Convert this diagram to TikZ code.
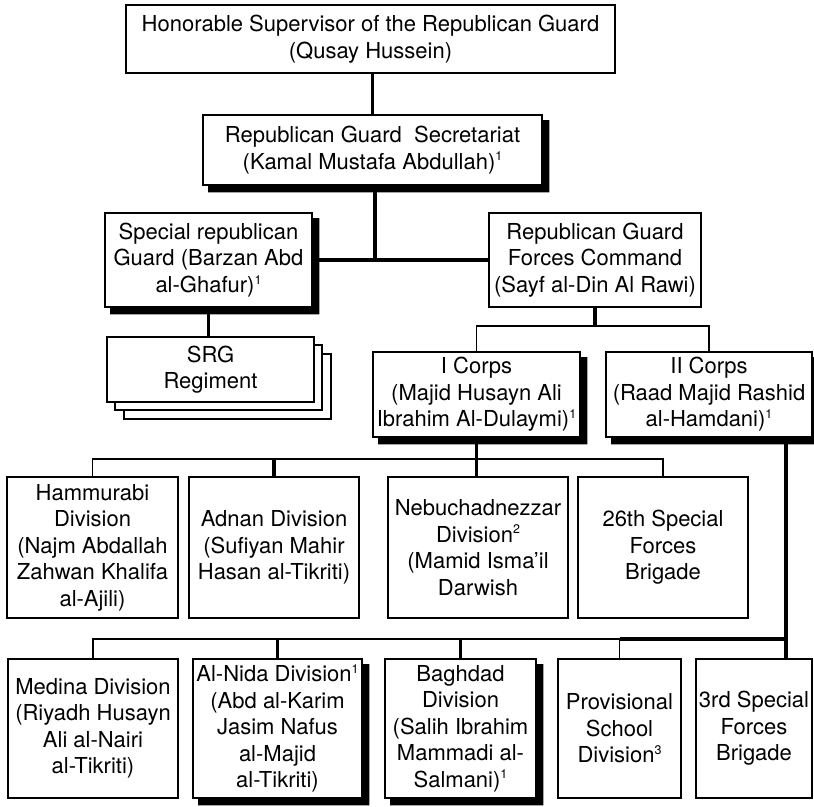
\documentclass[tikz,border=0pt]{standalone}
\usepackage{fontspec}
\setmainfont{TeX Gyre Heros}
\newcommand\fnmark[1]{\raisebox{0.72ex}{\fontsize{12.5}{12.5}\selectfont #1}}
\newcommand\dropL[1]{\fill[black] ([shift={(0,6)}]#1.north east) -- ([shift={(6.5,6)}]#1.north east)
    -- ([shift={(6.5,6.5)}]#1.south east) -- ([shift={(6,6.5)}]#1.south west)
    -- ([shift={(6,0)}]#1.south west) -- (#1.south east) -- cycle;}
\begin{document}
\begin{tikzpicture}[x=1pt,y=-1pt,
  box/.style={draw, line width=1.8pt, fill=white, align=center, inner sep=0pt,
    font=\fontsize{22}{26.5}\selectfont},
  backbox/.style={draw, line width=1.8pt, fill=white},
  thickln/.style={line width=3.3pt},
  thinln/.style={line width=1.8pt}]
\useasboundingbox (0,0) rectangle (814,806);

% stacked copies behind SRG regiment
\draw[backbox] (124,354) rectangle (331,419);
\draw[backbox] (115,345) rectangle (322,410);

\node[box, minimum width=489pt, minimum height=68pt] (top) at (370.5,39)
  {Honorable Supervisor of the Republican Guard\\(Qusay Hussein)};
\node[box, minimum width=339pt, minimum height=70pt] (sec) at (372.5,150)
  {Republican Guard\ \ Secretariat\\(Kamal Mustafa Abdullah)\fnmark{1}};
\node[box, minimum width=207pt, minimum height=94pt] (srgd) at (208.5,260)
  {Special republican\\Guard (Barzan Abd\\al-Ghafur)\fnmark{1}};
\node[box, minimum width=212pt, minimum height=94pt] (rgfc) at (595,260)
  {Republican Guard\\Forces Command\\(Sayf al-Din Al Rawi)};
\node[box, minimum width=207pt, minimum height=65pt] (srgreg) at (210.5,369.5)
  {SRG\\Regiment};
\node[box, minimum width=207pt, minimum height=85pt] (icorps) at (476.5,394.5)
  {I Corps\\(Majid Husayn Ali\\Ibrahim Al-Dulaymi)\fnmark{1}};
\node[box, minimum width=206pt, minimum height=85pt] (iicorps) at (709,394.5)
  {II Corps\\(Raad Majid Rashid\\al-Hamdani)\fnmark{1}};

\node[box, minimum width=171pt, minimum height=141pt] (hamm) at (92.5,547.5)
  {Hammurabi\\Division\\(Najm Abdallah\\Zahwan Khalifa\\al-Ajili)};
\node[box, minimum width=170pt, minimum height=141pt] (adnan) at (274,547.5)
  {Adnan Division\\(Sufiyan Mahir\\Hasan al-Tikriti)};
\node[box, minimum width=180pt, minimum height=141pt] (neb) at (478,547.5)
  {Nebuchadnezzar\\Division\fnmark{2}\\(Mamid Isma’il\\Darwish};
\node[box, minimum width=170pt, minimum height=141pt] (t26) at (663,547.5)
  {26th Special\\Forces\\Brigade};

\node[box, minimum width=170pt, minimum height=139pt] (medina) at (93,728.5)
  {Medina Division\\(Riyadh Husayn\\Ali al-Nairi\\al-Tikriti)};
\node[box, minimum width=169pt, minimum height=139pt] (alnida) at (277.5,728.5)
  {Al-Nida Division\fnmark{1}\\(Abd al-Karim\\Jasim Nafus\\al-Majid\\al-Tikriti)};
\node[box, minimum width=151pt, minimum height=139pt] (baghdad) at (460.5,728.5)
  {Baghdad\\Division\\(Salih Ibrahim\\Mammadi al-\\Salmani)\fnmark{1}};
\node[box, minimum width=123pt, minimum height=139pt] (prov) at (619.5,728.5)
  {Provisional\\School\\Division\fnmark{3}};
\node[box, minimum width=116pt, minimum height=139pt] (third) at (754,728.5)
  {3rd Special\\Forces\\Brigade};

% L-shaped drop shadows
\dropL{sec}
\dropL{srgd}
\dropL{icorps}
\dropL{iicorps}
\dropL{alnida}
\dropL{baghdad}

% connectors
\draw[thickln] (sec.north) -- (sec.north |- top.south);
\coordinate (j1) at (375,260);
\draw[thickln] (sec.south -| j1) -- (j1);
\draw[thickln] (srgd.east) -- (rgfc.west);
\draw[thickln] (srgd.south) -- (srgd.south |- srgreg.north);

\coordinate (b1) at (595,326);
\draw[thickln] (rgfc.south) -- (rgfc.south |- b1);
\draw[thinln] (icorps.north) |- (b1) -| (iicorps.north);

\coordinate (b2) at (0,459);
\draw[thinln] (hamm.north) |- (b2 -| t26.north) -- (t26.north);
\draw[thickln] (icorps.south) -- (icorps.south |- neb.north);
\draw[thickln] (adnan.north) -- (adnan.north |- b2);

\coordinate (c2) at (786,639);
\draw[thickln] (iicorps.south -| c2) -- (third.north -| c2);
\draw[thinln] (medina.north) |- (prov.north |- c2) -- (prov.north);
\draw[thickln] (prov.north |- c2) -- (c2);
\draw[thickln] (alnida.north) -- (alnida.north |- c2);
\draw[thickln] (baghdad.north) -- (baghdad.north |- c2);
\end{tikzpicture}
\end{document}
